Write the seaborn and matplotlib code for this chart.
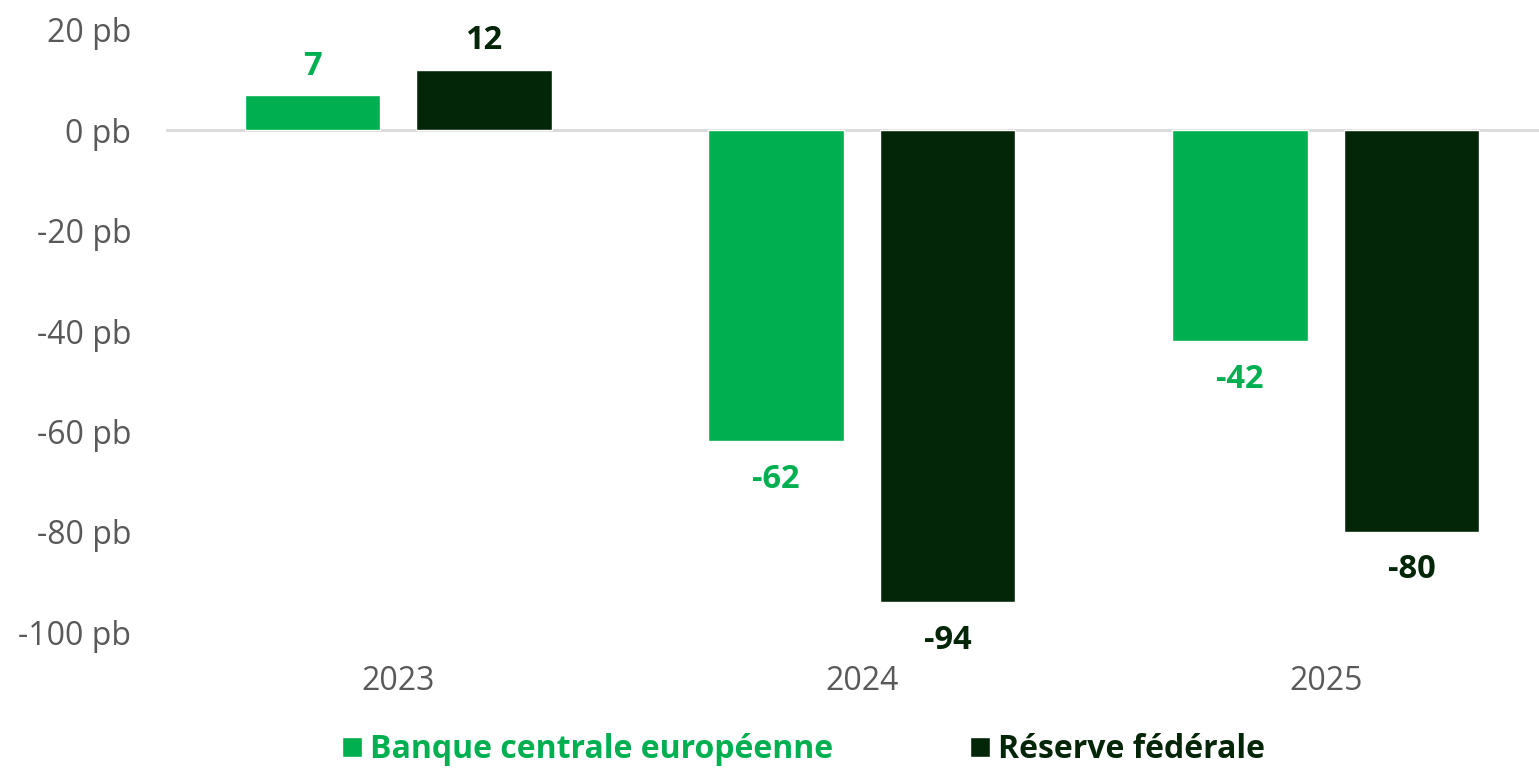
import pandas as pd
import matplotlib.pyplot as plt
import seaborn as sns
from matplotlib.lines import Line2D

# Data
years = ['2023', '2024', '2025']
series = ['Banque centrale européenne', 'Réserve fédérale']
bce_values = [7, -62, -42]
fed_values = [12, -94, -80]
colors = ['#00AF50', '#032608']
ytick_values = [20, 0, -20, -40, -60, -80, -100]

df = pd.DataFrame({
    'year': years * 2,
    'series': [series[0]] * 3 + [series[1]] * 3,
    'value': bce_values + fed_values,
})

sns.set_theme(style="white")
plt.rcParams['font.family'] = ['Open Sans', 'DejaVu Sans']

fig = plt.figure(figsize=(15.39, 7.68), dpi=100)
ax = fig.add_axes([0.108, 0.177, 0.892, 0.784])

sns.barplot(data=df, x='year', y='value', hue='series', palette=colors,
            width=0.74, gap=0.21, ax=ax, legend=False, saturation=1)

# Value labels
for container, col in zip(ax.containers, colors):
    for bar in container:
        v = bar.get_height()
        x = bar.get_x() + bar.get_width() / 2
        off = 5.8 if v >= 0 else -7.6
        ax.text(x, v + off, f'{v:.0f}', ha='center', va='center',
                fontsize=23.5, fontweight='bold', color=col)

ax.axhline(0, color='#d9d9d9', lw=2, zorder=0)
ax.set_ylim(-100, 20)
ax.set_xlim(-0.5, 2.46)
ax.set_yticks(ytick_values)
ax.set_yticklabels([f'{v} pb' for v in ytick_values])
ax.tick_params(axis='both', labelsize=23, labelcolor='#595959', length=0)
ax.tick_params(axis='y', pad=25)
ax.tick_params(axis='x', pad=24)
ax.set_xlabel('')
ax.set_ylabel('')
sns.despine(ax=ax, left=True, bottom=True)

# Legend
handles = [Line2D([0], [0], marker='s', color='w', markerfacecolor=c,
                  markersize=15, linestyle='') for c in colors]
leg = fig.legend(handles, series, loc='lower center', ncol=2, frameon=False,
                 bbox_to_anchor=(0.5149, -0.035), handletextpad=-0.45,
                 columnspacing=3.6, prop={'size': 23, 'weight': 'bold'})
for text, c in zip(leg.get_texts(), colors):
    text.set_color(c)

fig.savefig('out.png', dpi=100)
